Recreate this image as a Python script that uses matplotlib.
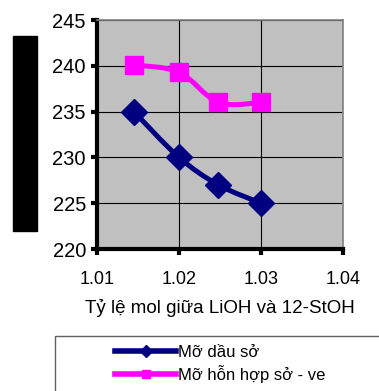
import numpy as np
import matplotlib.pyplot as plt
from matplotlib.path import Path
from matplotlib.patches import PathPatch, Rectangle
from matplotlib.lines import Line2D

plt.rcParams['font.family'] = ['Liberation Sans', 'DejaVu Sans']

# data
ratio = [1.0145, 1.02, 1.0248, 1.03]
mo_dau_so = [235, 230, 227, 225]
mo_hon_hop = [240.1, 239.3, 236, 236]
labels = ['Mỡ dầu sở', 'Mỡ hỗn hợp sở - ve']
xticks = [1.01, 1.02, 1.03, 1.04]
yticks = [220, 225, 230, 235, 240, 245]


def smooth_path(x, y, t=0.5):
    # catmull-rom style bezier through the points (like excel smoothed line)
    x = np.asarray(x); y = np.asarray(y)
    verts = [(x[0], y[0])]
    codes = [Path.MOVETO]
    n = len(x)
    for i in range(n - 1):
        p0 = (x[i - 1], y[i - 1]) if i > 0 else (x[i], y[i])
        p1 = (x[i], y[i])
        p2 = (x[i + 1], y[i + 1])
        p3 = (x[i + 2], y[i + 2]) if i + 2 < n else p2
        c1 = (p1[0] + (p2[0] - p0[0]) * t / 3, p1[1] + (p2[1] - p0[1]) * t / 3)
        c2 = (p2[0] - (p3[0] - p1[0]) * t / 3, p2[1] - (p3[1] - p1[1]) * t / 3)
        verts += [c1, c2, p2]
        codes += [Path.CURVE4] * 3
    return Path(verts, codes)


fig = plt.figure(figsize=(3.79, 3.91), dpi=100)
ax = fig.add_axes([97 / 379, 1 - 249 / 391, 246 / 379, 229 / 391])
ax.set_facecolor('#c0c0c0')

navy = '#000080'
pink = '#ff00ff'

ax.add_patch(PathPatch(smooth_path(ratio, mo_dau_so), fill=False, edgecolor=navy, lw=3.6, zorder=3))
ax.add_patch(PathPatch(smooth_path(ratio, mo_hon_hop), fill=False, edgecolor=pink, lw=3.6, zorder=3))
ax.plot(ratio, mo_dau_so, linestyle='none', marker='D', ms=13, color=navy, zorder=4)
ax.plot(ratio, mo_hon_hop, linestyle='none', marker='s', ms=13, color=pink, zorder=4)

ax.set_xlim(1.01, 1.04)
ax.set_ylim(220, 245)
ax.set_xticks(xticks)
ax.set_xticklabels(['1.01', '1.02', '1.03', '1.04'])
ax.set_yticks(yticks)
ax.grid(True, color='black', lw=0.8)
ax.set_axisbelow(True)

ax.spines['left'].set_linewidth(3)
ax.spines['bottom'].set_linewidth(3)
ax.spines['top'].set_color('#808080')
ax.spines['right'].set_color('#808080')
ax.spines['top'].set_linewidth(1.2)
ax.spines['right'].set_linewidth(1.2)
ax.tick_params(axis='both', direction='out', length=4, width=3, pad=4)
ax.tick_params(axis='y', labelsize=14.5)
ax.tick_params(axis='x', labelsize=13, pad=12)
ax.set_xlabel('Tỷ lệ mol giữa LiOH và 12-StOH', fontsize=13.5, labelpad=8)

# black box at the left (y label covered in the original)
fig.add_artist(Rectangle((13 / 379, 1 - 231 / 391), 24 / 379, 195 / 391,
                         transform=fig.transFigure, color='black'))

# legend box running off the figure edge
fig.add_artist(Rectangle((55 / 379, -0.05), 1.0, 1 - 336 / 391 + 0.05,
                         transform=fig.transFigure, facecolor='white',
                         edgecolor='#606060', lw=1))
handles = [Line2D([], [], color=navy, lw=4, marker='D', ms=6),
           Line2D([], [], color=pink, lw=4, marker='s', ms=6)]
fig.legend(handles, labels, loc='upper left', bbox_to_anchor=(103 / 379, 1 - 333 / 391),
           frameon=False, fontsize=12, handlelength=3.7, handletextpad=0.1,
           labelspacing=0.3, borderpad=0.2)

fig.savefig('out.png', dpi=100)
